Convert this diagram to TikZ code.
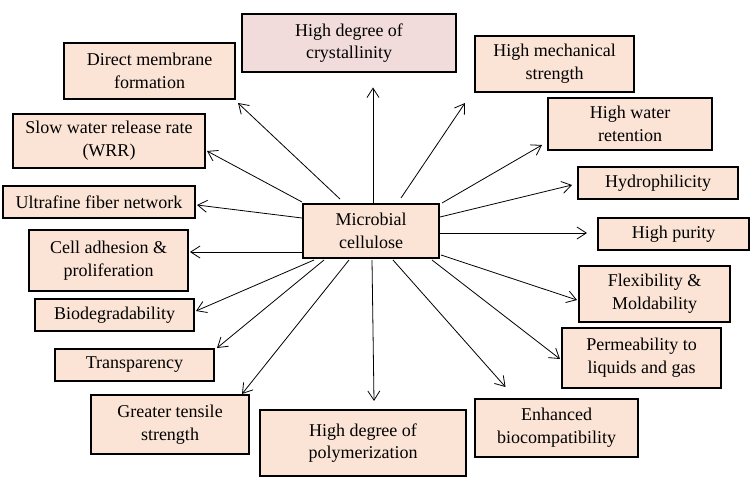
\documentclass[tikz,border=0pt]{standalone}
\usepackage{fontspec}
\setmainfont{Liberation Serif}
\usetikzlibrary{arrows.meta, calc}
\definecolor{boxfill}{HTML}{FBE4D5}
\definecolor{topfill}{HTML}{F2DCDB}

\begin{document}
\begin{tikzpicture}[
  x=0.75pt, y=-0.75pt,
  prop/.style={rectangle, draw=black, line width=1.5pt, fill=boxfill, inner sep=0pt,
               align=center, font=\fontsize{13.5}{17}\selectfont},
  topprop/.style={prop, fill=topfill, line width=2.2pt},
  size/.style 2 args={minimum width=#1*0.75pt, minimum height=#2*0.75pt},
  arr/.style={draw=black, line width=0.6pt, -{Straight Barb[length=7pt, width=9pt]}},
]
\useasboundingbox (0,0) rectangle (756,485);
% ---- centre node ----
\node[prop, size={136}{54}] (mc) at (371,231) {Microbial\\cellulose};
% ---- properties, clockwise from the top ----
\node[topprop, size={214}{58}] (cryst) at (349,43) {High degree of\\crystallinity};
\node[prop, size={159}{56}] (mech) at (554.5,64) {High mechanical\\strength};
\node[prop, size={164}{52}] (retent) at (630,124) {High water\\retention};
\node[prop, size={160}{32}] (hydro) at (658,183) {Hydrophilicity};
\node[prop, size={151}{32}] (purity) at (673.5,234) {High purity};
\node[prop, size={151}{56}] (flex) at (654.5,294) {Flexibility \&\\Moldability};
\node[prop, size={159}{60}] (perm) at (641.5,358) {Permeability to\\liquids and gas};
\node[prop, size={163}{58}] (biocomp) at (556.5,428) {Enhanced\\biocompatibility};
\node[prop, size={206}{66}] (polym) at (363,443) {High degree of\\polymerization};
\node[prop, size={158}{59}] (tensile) at (170,424.5) {Greater tensile\\strength};
\node[prop, size={159}{32}] (transp) at (134.5,365) {Transparency};
\node[prop, size={159}{32}] (biodeg) at (114.5,315) {Biodegradability};
\node[prop, size={159}{61}] (adhes) at (108.5,260.5) {Cell adhesion \&\\proliferation};
\node[prop, size={192}{32}] (ultra) at (99,202) {Ultrafine fiber network};
\node[prop, size={192}{54}] (wrr) at (109,141) {Slow water release rate\\(WRR)};
\node[prop, size={171}{56}] (membrane) at (149.5,71) {Direct membrane\\formation};
% ---- arrows out of the centre ----
\draw[arr] ($(mc.north)+(2,0)$) -- ($(cryst.south)+(24,14)$);
\draw[arr] ($(mc.north)+(30,-5)$) -- ($(mech.south west)+(-9,10)$);
\draw[arr] ($(mc.north east)+(2,0)$) -- ($(retent.south west)+(-5,-6)$);
\draw[arr] ($(mc.east)+(0,-14)$) -- ($(hydro.west)+(-5,2)$);
\draw[arr] ($(mc.east)+(0,2)$) -- ($(purity.west)+(-10,-1)$);
\draw[arr] ($(mc.south east)+(1,-4)$) -- ($(flex.west)+(-1,6)$);
\draw[arr] ($(mc.south east)+(-8,1)$) -- ($(perm.west)+(-1,1)$);
\draw[arr] ($(mc.south)+(22,1)$) -- ($(biocomp.north)+(-51,-11)$);
\draw[arr] ($(mc.south)+(1,1)$) -- ($(polym.north)+(11,-8)$);
\draw[arr] ($(mc.south)+(-22,1)$) -- ($(tensile.north east)+(-8,0)$);
\draw[arr] ($(mc.south west)+(22,1)$) -- ($(transp.north east)+(2,0)$);
\draw[arr] ($(mc.south west)+(12,1)$) -- ($(biodeg.east)+(1,-4)$);
\draw[arr] ($(mc.west)+(0,21)$) -- ($(adhes.east)+(1,-8.5)$);
\draw[arr] ($(mc.west)+(0,-13)$) -- ($(ultra.east)+(1,3)$);
\draw[arr] ($(mc.north west)+(0,-1)$) -- ($(wrr.east)+(1,10)$);
\draw[arr] ($(mc.north)+(-31,-4)$) -- ($(membrane.south east)+(2,3)$);
\end{tikzpicture}
\end{document}
